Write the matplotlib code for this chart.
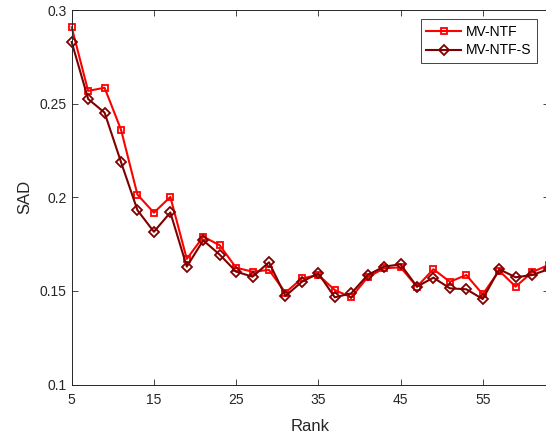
import matplotlib
matplotlib.use('Agg')
import matplotlib.pyplot as plt

ranks = list(range(5, 65, 2))
sad_mvntf = [0.2908, 0.2568, 0.2585, 0.2361, 0.2014, 0.1918, 0.2002, 0.1671,
             0.1790, 0.1744, 0.1624, 0.1603, 0.1612, 0.1491, 0.1567, 0.1585,
             0.1505, 0.1466, 0.1573, 0.1621, 0.1626, 0.1523, 0.1616, 0.1549,
             0.1585, 0.1482, 0.1608, 0.1523, 0.1600, 0.1639]
sad_mvntf_s = [0.2829, 0.2525, 0.2452, 0.2188, 0.1931, 0.1816, 0.1919, 0.1630,
               0.1770, 0.1694, 0.1603, 0.1576, 0.1653, 0.1473, 0.1549, 0.1594,
               0.1466, 0.1487, 0.1585, 0.1630, 0.1642, 0.1523, 0.1571, 0.1514,
               0.1509, 0.1457, 0.1616, 0.1573, 0.1585, 0.1616]

xticks = [5, 15, 25, 35, 45, 55]
yticks = [0.1, 0.15, 0.2, 0.25, 0.3]
ytick_labels = ['0.1', '0.15', '0.2', '0.25', '0.3']

plt.rcParams['font.family'] = ['Liberation Sans', 'DejaVu Sans']
dark = '#262626'

fig = plt.figure(figsize=(5.46, 4.41), dpi=100)
ax = fig.add_axes([0.1313, 0.1279, 0.8733, 0.8494])

ax.plot(ranks, sad_mvntf, color='#ff0000', lw=1.5, marker='s', ms=5,
        mfc='none', mew=1.3, label='MV-NTF', clip_on=False)
ax.plot(ranks, sad_mvntf_s, color='#800000', lw=1.5, marker='D', ms=4.8,
        mfc='none', mew=1.3, label='MV-NTF-S', clip_on=False)

ax.set_xlim(5, 63)
ax.set_ylim(0.1, 0.3)
ax.set_xticks(xticks)
ax.set_yticks(yticks)
ax.set_yticklabels(ytick_labels)
ax.tick_params(direction='in', top=True, right=True, length=4, width=0.6,
               colors=dark, labelsize=10, labelcolor=dark)
ax.tick_params(axis='x', pad=6)
for s in ax.spines.values():
    s.set_color(dark)
    s.set_linewidth(0.7)
ax.set_xlabel('Rank', fontsize=12, color=dark, labelpad=9)
ax.set_ylabel('SAD', fontsize=12, color=dark, labelpad=5)

leg = ax.legend(loc='upper left', bbox_to_anchor=(0.732, 0.976), fontsize=10,
                fancybox=False, edgecolor=dark, framealpha=1,
                handlelength=2.5, borderpad=0.4, labelspacing=0.35,
                handletextpad=0.35, borderaxespad=0)
leg.get_frame().set_linewidth(0.6)

fig.savefig('out.png', dpi=100)
plt.close(fig)
